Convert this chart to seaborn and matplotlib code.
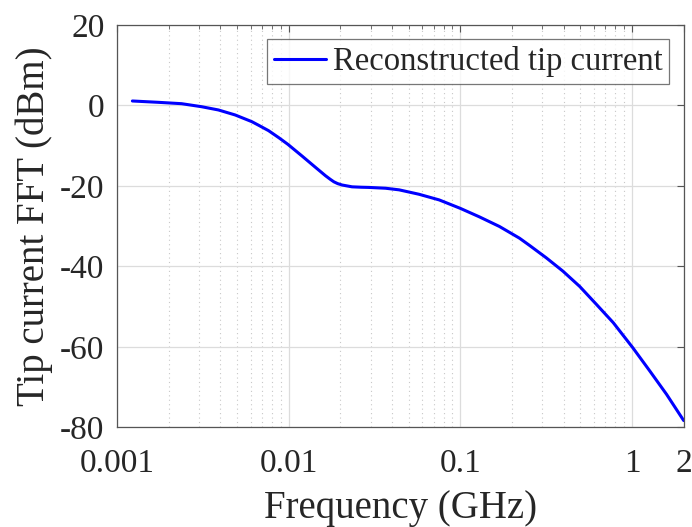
import numpy as np
import pandas as pd
import matplotlib
matplotlib.use("Agg")
import matplotlib.pyplot as plt
import seaborn as sns
from matplotlib.ticker import FixedLocator, FixedFormatter, LogLocator, NullFormatter

# Data
freq_ghz = [0.00123, 0.00174, 0.00238, 0.00311, 0.0039, 0.00488, 0.0061, 0.00668,
            0.00764, 0.0088, 0.0099, 0.01197, 0.01432, 0.0164, 0.0175, 0.01834, 0.0193,
            0.0205, 0.0234, 0.0265, 0.0294, 0.0367, 0.0440, 0.0575, 0.0753, 0.1,
            0.129, 0.169, 0.221, 0.253, 0.317, 0.396, 0.496, 0.622, 0.778, 1.01,
            1.27, 1.59, 2.0]
tip_fft_dbm = [1.07, 0.74, 0.40, -0.35, -1.16, -2.4, -4.06, -4.95,
               -6.3, -8.1, -9.7, -12.6, -15.4, -17.5, -18.4, -19.0, -19.45,
               -19.8, -20.25, -20.35, -20.4, -20.6, -21.0, -22.1, -23.5, -25.6,
               -27.7, -30.1, -33.0, -34.8, -37.9, -41.2, -45.0, -49.5, -54.0, -60.2,
               -66.0, -71.8, -78.3]
series_name = "Reconstructed tip current"
x_ticks = [0.001, 0.01, 0.1, 1, 2]
x_tick_labels = ["0.001", "0.01", "0.1", "1", "2"]
y_ticks = [-80, -60, -40, -20, 0, 20]
x_label = "Frequency (GHz)"
y_label = "Tip current FFT (dBm)"

df = pd.DataFrame({"f": freq_ghz, "v": tip_fft_dbm, "s": series_name})

sns.set_theme(style="white")
plt.rcParams["font.family"] = ["Liberation Serif", "DejaVu Serif"]
plt.rcParams["axes.unicode_minus"] = False

fig = plt.figure(figsize=(6.92, 5.27), dpi=100)
ax = fig.add_axes([0.169, 0.189, 0.819, 0.764])

sns.lineplot(data=df, x="f", y="v", hue="s", palette=["#0000ff"], linewidth=2.2,
             ax=ax, sort=False)
ax.set_xscale("log")
ax.set_xlim(0.001, 2)
ax.set_ylim(-80, 20)

ax.xaxis.set_major_locator(FixedLocator(x_ticks))
ax.xaxis.set_major_formatter(FixedFormatter(x_tick_labels))
ax.xaxis.set_minor_locator(LogLocator(base=10, subs=np.arange(2, 10)))
ax.xaxis.set_minor_formatter(NullFormatter())
ax.set_yticks(y_ticks)

# grid: major solid light, minor dotted on x
ax.grid(True, which="major", color="#dcdcdc", linewidth=0.9, linestyle="-")
ax.grid(True, which="minor", axis="x", color="#c8c8c8", linewidth=0.8, linestyle=(0, (1, 3)))
ax.set_axisbelow(True)

for sp in ax.spines.values():
    sp.set_visible(True)
    sp.set_color("#555555")
    sp.set_linewidth(0.9)

ax.tick_params(which="both", direction="in", top=True, right=True, colors="#555555",
               labelcolor="#262626", labelsize=24)
ax.tick_params(which="major", length=5, width=0.8)
ax.tick_params(which="minor", length=3, width=0.6)
ax.tick_params(axis="x", which="major", pad=15)
ax.tick_params(axis="y", which="major", pad=9)

ax.set_xlabel(x_label, fontsize=28, color="#262626", labelpad=8)
ax.set_ylabel(y_label, fontsize=28, color="#262626", labelpad=5)

leg = ax.legend(loc="upper right", fontsize=23.5, frameon=True, fancybox=False,
                edgecolor="#555555", handlelength=1.6, handletextpad=0.2,
                borderpad=0.2, borderaxespad=0.45)
leg.get_frame().set_linewidth(0.9)

fig.savefig("out.png", dpi=100)
